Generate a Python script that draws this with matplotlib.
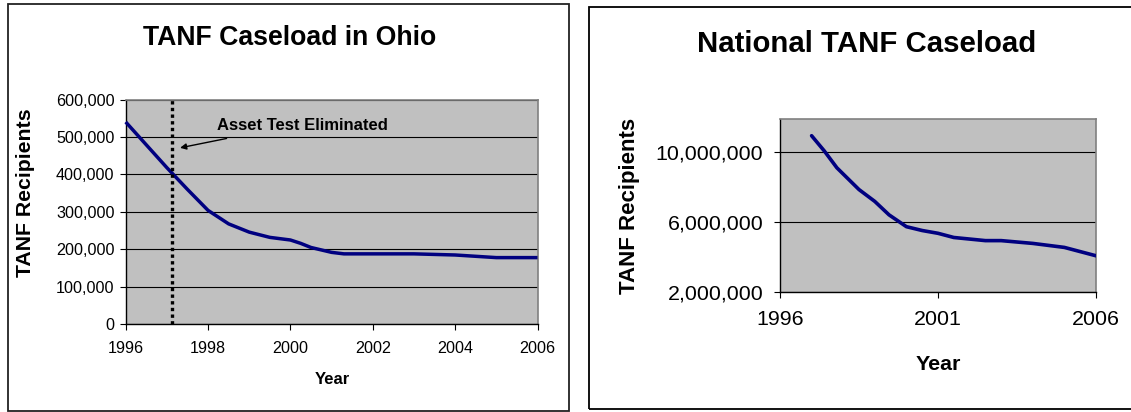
import matplotlib
matplotlib.use("Agg")
import matplotlib.pyplot as plt
from matplotlib.patches import Rectangle
from matplotlib.ticker import FuncFormatter

plt.rcParams['font.family'] = ['Liberation Sans', 'DejaVu Sans']

# Ohio TANF caseload
ohio_years = [1996, 1996.5, 1997, 1997.5, 1998, 1998.5, 1999, 1999.5, 2000,
              2000.25, 2000.5, 2001, 2001.3, 2002, 2003, 2004, 2005, 2006]
ohio_values = [540000, 479000, 418000, 360000, 304000, 268000, 246000, 232000, 225000,
               216000, 205000, 192000, 188000, 188000, 188000, 185000, 178000, 178000]
asset_test_year = 1997.12

# National TANF caseload
nat_years = [1997, 1997.4, 1997.8, 1998.5, 1999, 1999.45, 2000, 2000.5, 2001,
             2001.5, 2002.5, 2003, 2004, 2005, 2006]
nat_values = [10.94e6, 10.07e6, 9.1e6, 7.85e6, 7.17e6, 6.4e6, 5.72e6, 5.5e6, 5.34e6,
              5.1e6, 4.92e6, 4.92e6, 4.76e6, 4.53e6, 4.05e6]

left_xticks = [1996, 1998, 2000, 2002, 2004, 2006]
left_yticks = [0, 100000, 200000, 300000, 400000, 500000, 600000]
right_xticks = [1996, 2001, 2006]
right_yticks = [2e6, 6e6, 10e6]

W, H = 1131, 412
fig = plt.figure(figsize=(W / 100, H / 100), dpi=100)


def fx(px):
    return px / W


def fy(py):
    return 1 - py / H


# panel borders
fig.add_artist(Rectangle((fx(7.5), fy(411)), fx(569 - 7.5), (411 - 4) / H,
                         transform=fig.transFigure, fill=False, edgecolor='#222222', lw=1.3))
fig.add_artist(Rectangle((fx(589), fy(409)), fx(1140 - 589), (409 - 7) / H,
                         transform=fig.transFigure, fill=False, edgecolor='black', lw=1.3))

comma = FuncFormatter(lambda v, p: f"{int(round(v)):,}")
line_color = '#000080'


def style_axes(ax, fs):
    ax.set_facecolor('#C0C0C0')
    for s in ['top', 'right']:
        ax.spines[s].set_color('#808080')
        ax.spines[s].set_linewidth(1.2)
    for s in ['left', 'bottom']:
        ax.spines[s].set_color('black')
        ax.spines[s].set_linewidth(1.0)
    ax.grid(axis='y', color='black', linewidth=0.8)
    ax.set_axisbelow(True)
    ax.tick_params(direction='out', length=4, width=0.8, labelsize=fs, color='black')
    ax.yaxis.set_major_formatter(comma)


# Left: Ohio
ax1 = fig.add_axes([fx(125.7), fy(324.3), fx(537.5 - 125.7), (324.3 - 99.5) / H])
style_axes(ax1, 11.6)
ax1.plot(ohio_years, ohio_values, color=line_color, lw=2.5, solid_joinstyle='round',
         solid_capstyle='butt', zorder=3, clip_on=False)
ax1.axvline(asset_test_year, color='black', lw=2.4, linestyle=(0, (1, 1)), zorder=4)
ax1.set_xlim(1996, 2006)
ax1.set_ylim(0, 600000)
ax1.set_xticks(left_xticks)
ax1.set_yticks(left_yticks)
ax1.tick_params(axis='x', pad=8)
ax1.tick_params(axis='y', pad=4)
ax1.annotate('', xy=(1997.32, 471000), xytext=(1998.45, 496000),
             arrowprops=dict(arrowstyle='-|>', color='black', lw=1.0, mutation_scale=9,
                             shrinkA=0, shrinkB=0))
ax1.text(1998.21, 531000, 'Asset Test Eliminated', fontsize=12, fontweight='bold',
         ha='left', va='center')

fig.text(fx(290), fy(38), 'TANF Caseload in Ohio', fontsize=19.2, fontweight='bold',
         ha='center', va='center')
fig.text(fx(26), fy(193), 'TANF Recipients', fontsize=15.3, fontweight='bold',
         ha='center', va='center', rotation=90)
fig.text(fx(332), fy(380), 'Year', fontsize=12, fontweight='bold', ha='center', va='center')

# Right: National
ax2 = fig.add_axes([fx(780), fy(291.5), fx(1096 - 780), (291.5 - 119) / H])
style_axes(ax2, 15.4)
ax2.plot(nat_years, nat_values, color=line_color, lw=2.6, solid_joinstyle='round',
         solid_capstyle='round', zorder=3)
ax2.set_xlim(1996, 2006)
ax2.set_ylim(2e6, 11.9e6)
ax2.set_xticks(right_xticks)
ax2.set_yticks(right_yticks)
ax2.tick_params(axis='x', pad=9)
ax2.tick_params(axis='y', pad=8)

fig.text(fx(867), fy(44), 'National TANF Caseload', fontsize=21.2, fontweight='bold',
         ha='center', va='center')
fig.text(fx(630), fy(206), 'TANF Recipients', fontsize=16, fontweight='bold',
         ha='center', va='center', rotation=90)
fig.text(fx(938), fy(364), 'Year', fontsize=15.4, fontweight='bold', ha='center', va='center')

fig.savefig('out.png', dpi=100)
